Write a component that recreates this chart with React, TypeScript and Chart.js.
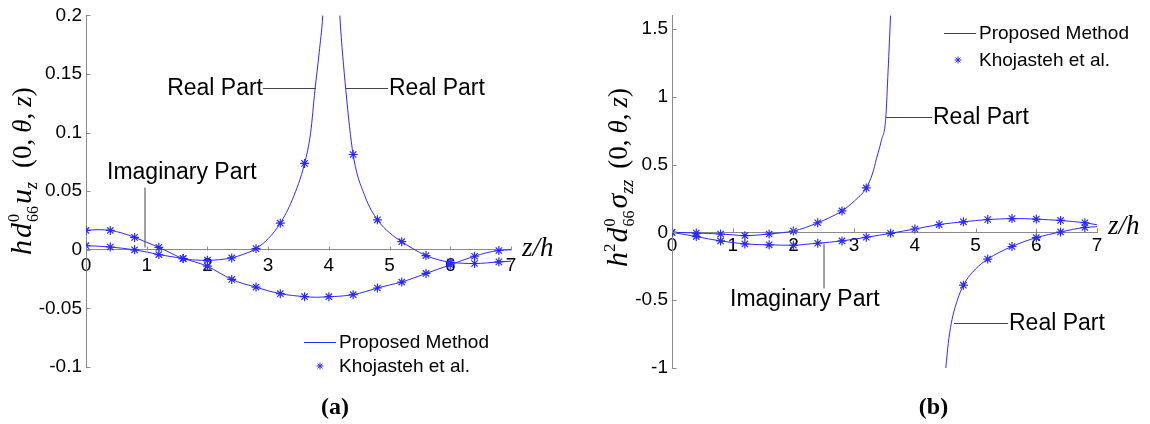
import React, { useEffect, useRef } from 'react';
import { Chart, registerables } from 'chart.js';

Chart.register(...registerables);

// ---------------- Data: panel (a) ----------------
const xTickValues = [0, 1, 2, 3, 4, 5, 6, 7];
const aYTickValues = [-0.1, -0.05, 0, 0.05, 0.1, 0.15, 0.2];

const aRealLineZ = [0, 0.2, 0.4, 0.6, 0.8, 1.0, 1.2, 1.4, 1.6, 1.8, 2.0, 2.2, 2.4, 2.6, 2.8, 3.0, 3.2, 3.4, 3.6, 3.7, 3.77, 3.84, 3.9, 3.96, 4.0, 4.12, 4.18, 4.28, 4.4, 4.6, 4.8, 5.0, 5.2, 5.4, 5.6, 5.8, 6.0, 6.2, 6.4, 6.6, 6.8, 7.0];
const aRealLineV = [0.0165, 0.0172, 0.0165, 0.0142, 0.0106, 0.0064, 0.0021, -0.0028, -0.0075, -0.0087, -0.009, -0.0084, -0.0069, -0.0037, 0.001, 0.0095, 0.0227, 0.043, 0.0737, 0.1, 0.136, 0.168, 0.2, 0.26, null, 0.26, 0.2, 0.136, 0.0813, 0.045, 0.0256, 0.0145, 0.0069, 0.0005, -0.0049, -0.0085, -0.0106, -0.0115, -0.0117, -0.0112, -0.0103, -0.0097];

const imagLineZ = [0, 0.2, 0.4, 0.6, 0.8, 1.0, 1.2, 1.4, 1.6, 1.8, 2.0, 2.2, 2.4, 2.6, 2.8, 3.0, 3.2, 3.4, 3.6, 3.8, 4.0, 4.2, 4.4, 4.6, 4.8, 5.0, 5.2, 5.4, 5.6, 5.8, 6.0, 6.2, 6.4, 6.6, 6.8, 7.0];
const aImagLineV = [0.0035, 0.0031, 0.0024, 0.0013, 0.0, -0.0019, -0.0041, -0.0058, -0.0075, -0.0105, -0.014, -0.0197, -0.0253, -0.029, -0.0318, -0.035, -0.0374, -0.039, -0.04, -0.0405, -0.04, -0.0395, -0.0383, -0.0357, -0.0326, -0.03, -0.0275, -0.024, -0.0202, -0.0165, -0.0129, -0.009, -0.0055, -0.0025, -0.0006, 0.0];

const markerZ = [0, 0.4, 0.8, 1.2, 1.6, 2.0, 2.4, 2.8, 3.2, 3.6, 4.0, 4.4, 4.8, 5.2, 5.6, 6.0, 6.4, 6.8];
const aRealMarks = [0.0165, 0.0165, 0.0106, 0.0021, -0.0075, -0.0089, -0.0069, 0.001, 0.0227, 0.0737, null, 0.0813, 0.0256, 0.0069, -0.0049, -0.0106, -0.0117, -0.0103];
const aImagMarks = [0.0035, 0.0024, 0.0, -0.0041, -0.0075, -0.014, -0.0253, -0.0318, -0.0374, -0.04, -0.04, -0.0383, -0.0326, -0.0275, -0.0202, -0.0129, -0.0055, -0.0006];

// ---------------- Data: panel (b) ----------------
const bYTickValues = [-1, -0.5, 0, 0.5, 1, 1.5];

const bRealLineZ = [0, 0.2, 0.4, 0.6, 0.8, 1.0, 1.2, 1.4, 1.6, 1.8, 2.0, 2.2, 2.4, 2.6, 2.8, 3.0, 3.2, 3.3, 3.37, 3.45, 3.52, 3.56, 3.6, 3.63, 4.0, 4.48, 4.51, 4.55, 4.6, 4.7, 4.8, 5.0, 5.2, 5.4, 5.6, 5.8, 6.0, 6.2, 6.4, 6.6, 6.8, 7.0];
const bRealLineV = [0, -0.002, -0.005, -0.008, -0.012, -0.018, -0.024, -0.02, -0.012, -0.003, 0.01, 0.036, 0.071, 0.11, 0.158, 0.23, 0.328, 0.43, 0.547, 0.68, 0.839, 1.2, 1.6, 1.9, null, -1.15, -1.0, -0.82, -0.67, -0.5, -0.389, -0.27, -0.197, -0.145, -0.104, -0.068, -0.039, -0.016, 0.003, 0.022, 0.036, 0.042];
const bImagLineV = [0, -0.015, -0.031, -0.048, -0.063, -0.075, -0.085, -0.09, -0.092, -0.094, -0.095, -0.088, -0.08, -0.072, -0.063, -0.05, -0.036, -0.022, -0.007, 0.009, 0.025, 0.042, 0.058, 0.069, 0.078, 0.087, 0.095, 0.099, 0.102, 0.101, 0.098, 0.093, 0.088, 0.08, 0.071, 0.056];

const bRealMarks = [0, -0.005, -0.012, -0.024, -0.012, 0.01, 0.071, 0.158, 0.328, null, null, null, -0.389, -0.197, -0.104, -0.039, 0.003, 0.036];
const bImagMarks = [0, -0.031, -0.063, -0.085, -0.092, -0.095, -0.08, -0.063, -0.036, -0.007, 0.025, 0.058, 0.078, 0.095, 0.102, 0.098, 0.088, 0.071];

const legendLabels = ['Proposed Method', 'Khojasteh et al.'];
const realLabel = 'Real Part';
const imagLabel = 'Imaginary Part';

// ---------------- Styles ----------------
const SANS = '"Liberation Sans", Arial, sans-serif';
const SERIF = '"Liberation Serif", "Times New Roman", serif';
const BLUE = '#2a2aff';
const AXIS = '#8a8a8a';
const LEADER = '#444444';

const zip = (xs: number[], ys: (number | null)[]) => xs.map((x, i) => ({ x, y: ys[i] }));

type Piece =
  | { t: string; f: string; dy?: number }
  | { stack: { t: string; f: string; dy: number }[] }
  | { gap: number };

type Ann =
  | { kind: 'text'; text: string; x: number; y: number; align: CanvasTextAlign; font: string }
  | { kind: 'line'; x1: number; y1: number; x2: number; y2: number };

interface Panel {
  offsetX: number;
  width: number;
  yMin: number;
  yMax: number;
  yTicks: number[];
  padding: { left: number; right: number; top: number; bottom: number };
  xLabelPad: number;
  datasets: any[];
  anns: Ann[];
  legend: { lineX1: number; lineX2: number; y1: number; starX: number; y2: number; textX: number };
  caption: { text: string; x: number; y: number };
  title: { pieces: Piece[]; bx: number; by: number };
  zh: { x: number; y: number };
}

const ANN_FONT = `23px ${SANS}`;
const TICK_FONT_SIZE = 19;
const MI = (s: number) => `italic ${s}px ${SERIF}`;
const MR = (s: number) => `${s}px ${SERIF}`;

const tailParens = (gap: number): Piece[] => [
  { gap },
  { t: '(0,', f: MR(27) },
  { gap: 6 },
  { t: 'θ', f: MI(27) },
  { t: ',', f: MR(27) },
  { gap: 6 },
  { t: 'z', f: MI(27) },
  { t: ')', f: MR(27) },
];

const aTitle: Piece[] = [
  { t: 'h', f: MI(30) },
  { gap: 2 },
  { t: 'd', f: MI(30) },
  { gap: 1 },
  { stack: [{ t: '0', f: MR(16), dy: -12 }, { t: '66', f: MR(16), dy: 7 }] },
  { gap: 2 },
  { t: 'u', f: MI(30) },
  { t: 'z', f: MI(18), dy: 6 },
  ...tailParens(14),
];

const bTitle: Piece[] = [
  { t: 'h', f: MI(30) },
  { t: '2', f: MR(17), dy: -12 },
  { gap: 1 },
  { t: 'd', f: MI(30) },
  { gap: 1 },
  { stack: [{ t: '0', f: MR(16), dy: -12 }, { t: '66', f: MR(16), dy: 7 }] },
  { gap: 2 },
  { t: 'σ', f: MI(30) },
  { t: 'zz', f: MI(18), dy: 6 },
  ...tailParens(11),
];

function lineDs(z: number[], v: (number | null)[]) {
  return {
    data: zip(z, v),
    borderColor: BLUE,
    borderWidth: 1,
    pointRadius: 0,
    cubicInterpolationMode: 'monotone',
    spanGaps: false,
    fill: false,
  };
}
function markDs(z: number[], v: (number | null)[]) {
  return {
    data: zip(z, v),
    showLine: false,
    pointStyle: 'star',
    pointRadius: 4.5,
    pointBorderColor: BLUE,
    pointBackgroundColor: BLUE,
    pointBorderWidth: 1.2,
  };
}

const panels: Panel[] = [
  {
    offsetX: 0,
    width: 575,
    yMin: -0.1,
    yMax: 0.2,
    yTicks: aYTickValues,
    padding: { left: 26, right: 64, top: 13, bottom: 57 },
    xLabelPad: 5,
    datasets: [
      lineDs(aRealLineZ, aRealLineV),
      lineDs(imagLineZ, aImagLineV),
      markDs(markerZ, aRealMarks),
      markDs(markerZ, aImagMarks),
    ],
    anns: [
      { kind: 'text', text: realLabel, x: 263, y: 89, align: 'right', font: ANN_FONT },
      { kind: 'line', x1: 263, y1: 88, x2: 316, y2: 88 },
      { kind: 'text', text: realLabel, x: 389, y: 89, align: 'left', font: ANN_FONT },
      { kind: 'line', x1: 346, y1: 88, x2: 388, y2: 88 },
      { kind: 'text', text: imagLabel, x: 107, y: 173, align: 'left', font: ANN_FONT },
      { kind: 'line', x1: 145, y1: 187, x2: 145, y2: 247 },
    ],
    legend: { lineX1: 304, lineX2: 336, y1: 342, starX: 320, y2: 366, textX: 339 },
    caption: { text: '(a)', x: 335, y: 408 },
    title: { pieces: aTitle, bx: 31, by: 255 },
    zh: { x: 522, y: 249 },
  },
  {
    offsetX: 575,
    width: 575,
    yMin: -1,
    yMax: 1.6,
    yTicks: bYTickValues,
    padding: { left: 37, right: 53, top: 13, bottom: 56 },
    xLabelPad: 2,
    datasets: [
      lineDs(bRealLineZ, bRealLineV),
      lineDs(imagLineZ, bImagLineV),
      markDs(markerZ, bRealMarks),
      markDs(markerZ, bImagMarks),
    ],
    anns: [
      { kind: 'text', text: realLabel, x: 933, y: 118, align: 'left', font: ANN_FONT },
      { kind: 'line', x1: 886, y1: 117, x2: 932, y2: 117 },
      { kind: 'text', text: imagLabel, x: 730, y: 300, align: 'left', font: ANN_FONT },
      { kind: 'line', x1: 824, y1: 288, x2: 824, y2: 243 },
      { kind: 'text', text: realLabel, x: 1009, y: 324, align: 'left', font: ANN_FONT },
      { kind: 'line', x1: 954, y1: 323, x2: 1008, y2: 323 },
    ],
    legend: { lineX1: 944, lineX2: 976, y1: 33, starX: 958, y2: 60, textX: 979 },
    caption: { text: '(b)', x: 933.5, y: 408 },
    title: { pieces: bTitle, bx: 627, by: 267 },
    zh: { x: 1108, y: 227 },
  },
];

function drawMath(ctx: CanvasRenderingContext2D, pieces: Piece[], bx: number, by: number) {
  ctx.save();
  ctx.translate(bx, by);
  ctx.rotate(-Math.PI / 2);
  ctx.textBaseline = 'alphabetic';
  ctx.textAlign = 'left';
  ctx.fillStyle = '#000';
  let cx = 0;
  for (const p of pieces) {
    if ('stack' in p) {
      let w = 0;
      for (const s of p.stack) {
        ctx.font = s.f;
        ctx.fillText(s.t, cx, s.dy);
        w = Math.max(w, ctx.measureText(s.t).width);
      }
      cx += w;
    } else if ('t' in p) {
      ctx.font = p.f;
      ctx.fillText(p.t, cx, p.dy || 0);
      cx += ctx.measureText(p.t).width;
    } else {
      cx += p.gap;
    }
  }
  ctx.restore();
}

function drawStar(ctx: CanvasRenderingContext2D, x: number, y: number, r: number) {
  ctx.beginPath();
  ctx.moveTo(x - r, y);
  ctx.lineTo(x + r, y);
  ctx.moveTo(x, y - r);
  ctx.lineTo(x, y + r);
  const d = r * Math.SQRT1_2;
  ctx.moveTo(x - d, y - d);
  ctx.lineTo(x + d, y + d);
  ctx.moveTo(x - d, y + d);
  ctx.lineTo(x + d, y - d);
  ctx.stroke();
}

function makeDecor(p: Panel) {
  return {
    id: 'decor',
    afterDraw(chart: any) {
      const ctx: CanvasRenderingContext2D = chart.ctx;
      const xs = chart.scales.x;
      const ys = chart.scales.y;
      const ox = p.offsetX;
      ctx.save();
      // inward ticks
      ctx.strokeStyle = AXIS;
      ctx.lineWidth = 1;
      const y0 = Math.round(ys.getPixelForValue(0)) + 0.5;
      const xl = Math.round(xs.getPixelForValue(0)) + 0.5;
      ctx.beginPath();
      for (const v of xTickValues) {
        const px = Math.round(xs.getPixelForValue(v)) + 0.5;
        ctx.moveTo(px, y0);
        ctx.lineTo(px, y0 - 4);
      }
      for (const v of p.yTicks) {
        const py = Math.round(ys.getPixelForValue(v)) + 0.5;
        ctx.moveTo(xl, py);
        ctx.lineTo(xl + 4, py);
      }
      ctx.stroke();

      // annotations
      for (const a of p.anns) {
        if (a.kind === 'text') {
          ctx.font = a.font;
          ctx.fillStyle = '#000';
          ctx.textAlign = a.align;
          ctx.textBaseline = 'middle';
          ctx.fillText(a.text, a.x - ox, a.y);
        } else {
          ctx.strokeStyle = LEADER;
          ctx.lineWidth = 1;
          ctx.beginPath();
          ctx.moveTo(a.x1 - ox, a.y1 + 0.5);
          ctx.lineTo(a.x2 - ox, a.y2 + 0.5);
          ctx.stroke();
        }
      }

      // legend
      const L = p.legend;
      ctx.fillStyle = BLUE;
      ctx.fillRect(L.lineX1 - ox, L.y1, L.lineX2 - L.lineX1, 1);
      ctx.strokeStyle = BLUE;
      ctx.lineWidth = 1;
      drawStar(ctx, L.starX - ox, L.y2, 3.5);
      ctx.fillStyle = '#000';
      ctx.font = `19px ${SANS}`;
      ctx.textAlign = 'left';
      ctx.textBaseline = 'middle';
      ctx.fillText(legendLabels[0], L.textX - ox, L.y1 + 1);
      ctx.fillText(legendLabels[1], L.textX - ox, L.y2 + 1);

      // z/h
      ctx.font = `italic 27px ${SERIF}`;
      ctx.textAlign = 'left';
      ctx.textBaseline = 'middle';
      ctx.fillText('z/h', p.zh.x - ox, p.zh.y);

      // caption
      ctx.font = `bold 24px ${SERIF}`;
      ctx.textAlign = 'center';
      ctx.fillText(p.caption.text, p.caption.x - ox, p.caption.y);

      // rotated y title
      drawMath(ctx, p.title.pieces, p.title.bx - ox, p.title.by);
      ctx.restore();
    },
  };
}

function PanelChart({ p }: { p: Panel }) {
  const ref = useRef<HTMLCanvasElement | null>(null);
  useEffect(() => {
    if (!ref.current) return;
    const axisCommon = {
      grid: { display: true, drawOnChartArea: false, drawTicks: false },
      border: { display: true, color: AXIS, width: 1 },
    };
    const chart = new Chart(ref.current, {
      type: 'line',
      data: { datasets: p.datasets },
      options: {
        responsive: false,
        animation: false,
        events: [],
        layout: { padding: p.padding },
        plugins: { legend: { display: false }, tooltip: { enabled: false } },
        scales: {
          x: {
            type: 'linear',
            min: 0,
            max: 7,
            position: { y: 0 },
            afterBuildTicks: (s: any) => {
              s.ticks = xTickValues.map((v) => ({ value: v }));
            },
            ticks: {
              color: '#000',
              font: { family: SANS, size: TICK_FONT_SIZE },
              padding: p.xLabelPad,
              maxRotation: 0,
              autoSkip: false,
              callback: (v: any) => String(v),
            },
            ...axisCommon,
          },
          y: {
            type: 'linear',
            min: p.yMin,
            max: p.yMax,
            position: 'left',
            afterBuildTicks: (s: any) => {
              s.ticks = p.yTicks.map((v) => ({ value: v }));
            },
            afterFit: (s: any) => {
              s.width = 60;
            },
            ticks: {
              color: '#000',
              font: { family: SANS, size: TICK_FONT_SIZE },
              padding: 4,
              autoSkip: false,
              callback: (v: any) => String(v),
            },
            ...axisCommon,
          },
        },
      } as any,
      plugins: [makeDecor(p)],
    });
    return () => chart.destroy();
  }, [p]);
  return (
    <canvas
      ref={ref}
      width={p.width}
      height={424}
      style={{ position: 'absolute', left: p.offsetX, top: 0, width: p.width, height: 424 }}
    />
  );
}

export default function App() {
  return (
    <div style={{ position: 'absolute', left: 0, top: 0, width: 1150, height: 424, background: '#fff' }}>
      {panels.map((p, i) => (
        <PanelChart key={i} p={p} />
      ))}
    </div>
  );
}
